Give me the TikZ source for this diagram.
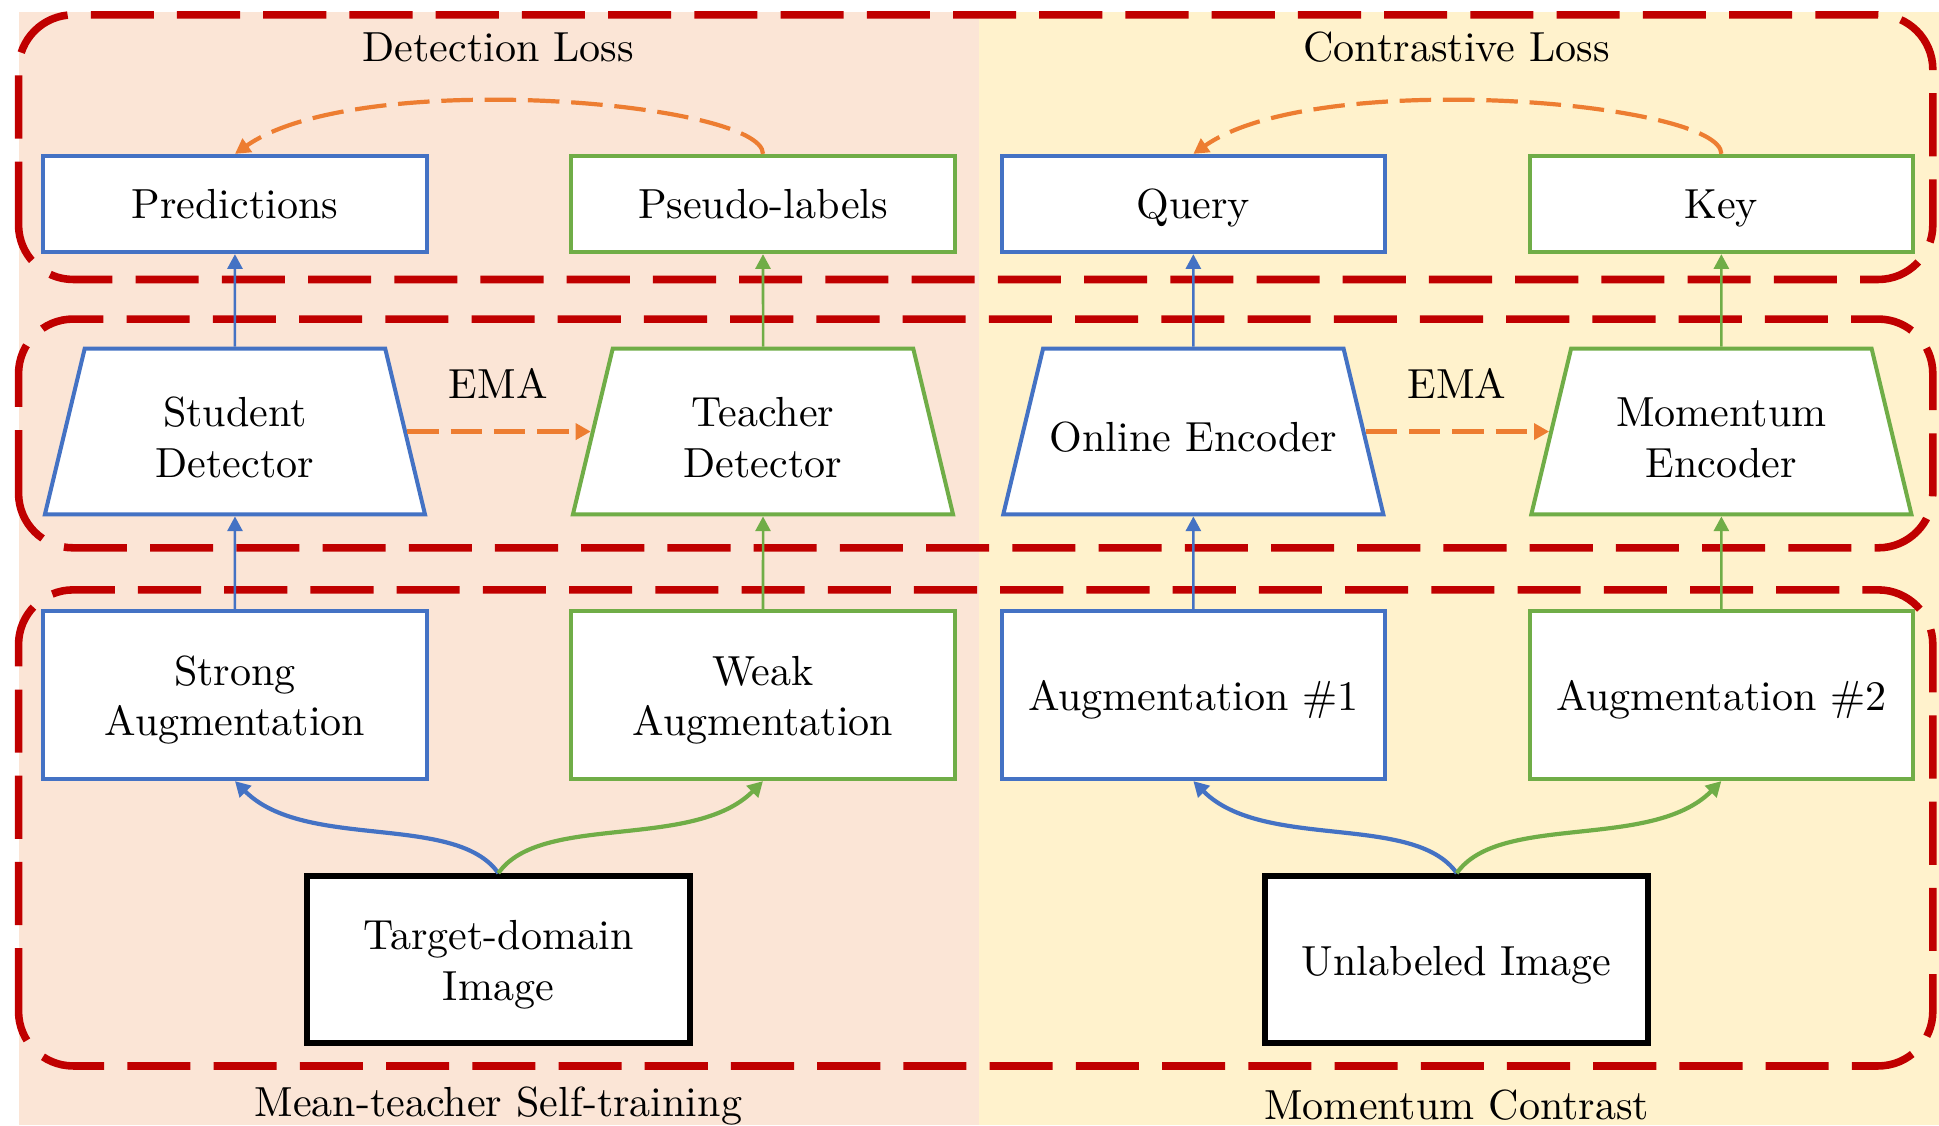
\documentclass[tikz,border=0pt]{standalone}
\usetikzlibrary{shapes.geometric,arrows.meta}
\definecolor{peach}{HTML}{FBE5D6}
\definecolor{cream}{HTML}{FFF2CC}
\definecolor{oblue}{HTML}{4472C4}
\definecolor{ogreen}{HTML}{70AD47}
\definecolor{oorange}{HTML}{ED7D31}
\definecolor{dred}{HTML}{C00000}
% centred text block, set a little below the node centre
\newcommand\celltext[2][1.3pt]{\raisebox{-#1}[\height][\depth]{\begin{tabular}{@{}c@{}}#2\end{tabular}}}
% text block of fixed width for the network trapezia
\newcommand\nettext[1]{\makebox[72pt]{\begin{tabular}{@{}c@{}}#1\end{tabular}}}
\begin{document}
\begin{tikzpicture}[x=0.29401pt,y=0.29401pt,
  box/.style={draw,fill=white,line width=0.95pt,minimum width=91.1pt,inner sep=0pt},
  rowbox/.style={box,minimum height=22.9pt},
  augbox/.style={box,minimum height=40pt},
  imgbox/.style={box,draw=black,line width=1.4pt,minimum height=39.7pt},
  net/.style={draw,fill=white,line width=0.95pt,trapezium,trapezium angle=76.4,
    trapezium stretches=true,minimum width=91.1pt,minimum height=39.4pt,inner sep=0pt,
    text height=24.6pt,text depth=14.8pt},
  stage/.style={draw=dred,line width=1.8pt,dash pattern=on 15pt off 5.5pt,rounded corners=13pt},
  feed/.style={line width=0.6pt,-{Triangle[length=3.5pt,width=3.6pt]}},
  fork/.style={line width=1pt,-{Triangle[length=3.6pt,width=3.8pt]}},
  ema/.style={color=oorange,line width=1pt,dash pattern=on 7.5pt off 2.8pt,
    -{Triangle[length=3.6pt,width=3.8pt]}}
]
% canvas and the two method panels
\useasboundingbox (0,0) rectangle (1568,910);
\fill[peach] (15,0) rectangle (792,900);
\fill[cream] (792,0) rectangle (1568,900);

% stage frames
\draw[stage] (15,684) rectangle (1563,898);
\draw[stage] (15,467) rectangle (1563,652);
\draw[stage] (15,48) rectangle (1563,433);

% panel and stage captions
\node (dl) at (403,872) {Detection Loss};
\node (cl) at (1178,872) {Contrastive Loss};
\node (mt) at (403,16) {Mean-teacher Self-training};
\node (mc) at (1178,16) {Momentum Contrast};
\node (ema1) at (403,600) {EMA};
\node (ema2) at (1178,600) {EMA};

% outputs
\node[rowbox,draw=oblue] (pred) at (190,745) {\celltext[1pt]{Predictions}};
\node[rowbox,draw=ogreen] (plab) at (617,745) {\celltext[1pt]{Pseudo-labels}};
\node[rowbox,draw=oblue] (query) at (965,745) {\celltext[1pt]{Query}};
\node[rowbox,draw=ogreen] (key) at (1392,745) {\celltext[1pt]{Key}};

% networks
\node[net,draw=oblue] (stu) at (190,561) {\nettext{Student\\Detector}};
\node[net,draw=ogreen] (tea) at (617,561) {\nettext{Teacher\\Detector}};
\node[net,draw=oblue] (onl) at (965,561) {\nettext{Online Encoder}};
\node[net,draw=ogreen] (mom) at (1392,561) {\nettext{Momentum\\Encoder}};

% augmentations
\node[augbox,draw=oblue] (strong) at (190,348) {\celltext{Strong\\Augmentation}};
\node[augbox,draw=ogreen] (weak) at (617,348) {\celltext{Weak\\Augmentation}};
\node[augbox,draw=oblue] (aug1) at (965,348) {\celltext{Augmentation \#1}};
\node[augbox,draw=ogreen] (aug2) at (1392,348) {\celltext{Augmentation \#2}};

% inputs
\node[imgbox] (tgt) at (403,134) {\celltext{Target-domain\\Image}};
\node[imgbox] (unl) at (1178,134) {\celltext{Unlabeled Image}};

% forward passes
\draw[feed,oblue] (stu.north) -- (pred.south);
\draw[feed,ogreen] (tea.north) -- (plab.south);
\draw[feed,oblue] (onl.north) -- (query.south);
\draw[feed,ogreen] (mom.north) -- (key.south);
\draw[feed,oblue] (strong.north) -- (stu.south);
\draw[feed,ogreen] (weak.north) -- (tea.south);
\draw[feed,oblue] (aug1.north) -- (onl.south);
\draw[feed,ogreen] (aug2.north) -- (mom.south);

% inputs split into two views
\draw[fork,oblue] (tgt.north) .. controls +(125:60) and +(-45:80) .. (strong.south);
\draw[fork,ogreen] (tgt.north) .. controls +(55:60) and +(-135:80) .. (weak.south);
\draw[fork,oblue] (unl.north) .. controls +(125:60) and +(-45:80) .. (aug1.south);
\draw[fork,ogreen] (unl.north) .. controls +(55:60) and +(-135:80) .. (aug2.south);

% EMA updates and loss targets
\draw[ema] (stu.east) -- (tea.west);
\draw[ema] (onl.east) -- (mom.west);
\draw[ema] (plab.north) .. controls +(0,42) and +(100,70) .. (pred.north);
\draw[ema] (key.north) .. controls +(0,42) and +(100,70) .. (query.north);
\end{tikzpicture}
\end{document}
